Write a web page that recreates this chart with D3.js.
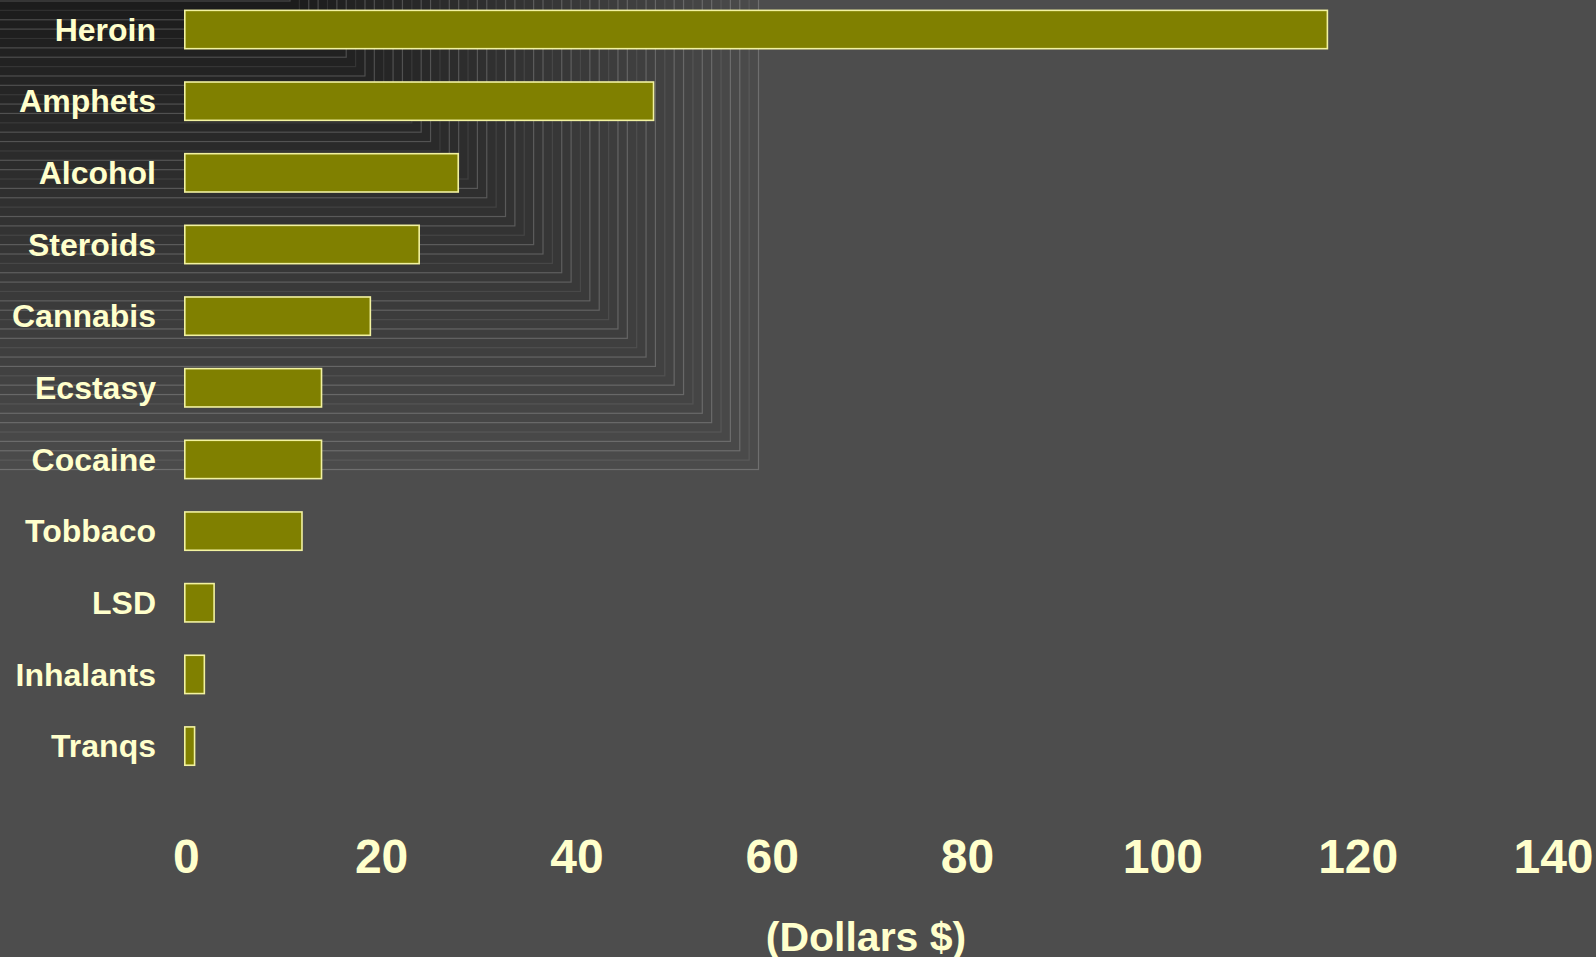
<!DOCTYPE html>
<html>
<head>
<meta charset="utf-8">
<script src="https://cdn.jsdelivr.net/npm/d3@7"></script>
<style>
  html, body { margin: 0; padding: 0; background: #4d4d4d; overflow: hidden; }
  svg { display: block; }
  text { font-family: "Liberation Sans", Arial, sans-serif; font-weight: bold; fill: #ffffcc; }
</style>
</head>
<body>
<svg id="chart" width="1596" height="957"></svg>
<script>
// Average spend per use, by substance
const categories = ["Heroin", "Amphets", "Alcohol", "Steroids", "Cannabis", "Ecstasy",
                    "Cocaine", "Tobbaco", "LSD", "Inhalants", "Tranqs"];
const values = [117, 48, 28, 24, 19, 14, 14, 12, 3, 2, 1];
const tickValues = [0, 20, 40, 60, 80, 100, 120, 140];
const axisTitle = "(Dollars $)";

const W = 1596, H = 957;
const svg = d3.select("#chart");

// Background: nested rectangles anchored at the top-left corner,
// shading from near-black in the corner out to the page grey.
svg.append("rect").attr("width", W).attr("height", H).attr("fill", "#4d4d4d");
const bg = svg.append("g");
const steps = 51, stepSize = 9.37, x0 = 290, y0 = 1;
const shade = d3.interpolateRgb("#1b1b1b", "#4b4b4b");
for (let k = steps - 1; k >= 0; k--) {
  const cx = x0 + k * stepSize, cy = y0 + k * stepSize;
  bg.append("rect")
    .attr("x", -10).attr("y", -10)
    .attr("width", cx + 10).attr("height", cy + 10)
    .attr("fill", shade(k / (steps - 1)))
    .attr("stroke", "#ffffff")
    .attr("stroke-opacity", (k % 3 === 1) ? 0.09 : 0.2)
    .attr("stroke-width", 1.2);
}

// Scales
const x = d3.scaleLinear().domain([0, 140]).range([184.8, 1552]);
const y = d3.scaleBand().domain(categories)
  .range([-6.3, 781.9])
  .paddingInner(0.465)
  .paddingOuter(0.2325);

// Bars
svg.append("g").selectAll("rect")
  .data(categories)
  .join("rect")
  .attr("x", x(0))
  .attr("y", d => y(d))
  .attr("width", (d, i) => x(values[i]) - x(0))
  .attr("height", y.bandwidth())
  .attr("fill", "#808000")
  .attr("stroke", "#f2f2a0")
  .attr("stroke-width", 1.6);

// Category labels
const yAxis = d3.axisLeft(y).tickSize(0).tickPadding(0);
const gy = svg.append("g").attr("transform", "translate(156,0)").call(yAxis);
gy.select(".domain").remove();
gy.selectAll("text")
  .attr("fill", "#ffffcc")
  .attr("font-size", 32)
  .attr("dy", "0.35em")
  .style("font-family", "'Liberation Sans', Arial, sans-serif")
  .style("font-weight", "bold");

// Value axis labels
const xAxis = d3.axisBottom(x).tickValues(tickValues).tickSize(0).tickPadding(0);
const gx = svg.append("g").attr("transform", "translate(1,837)").call(xAxis);
gx.select(".domain").remove();
gx.selectAll("text")
  .attr("fill", "#ffffcc")
  .attr("font-size", 48)
  .attr("y", 0)
  .attr("dy", "0.74em")
  .style("font-family", "'Liberation Sans', Arial, sans-serif")
  .style("font-weight", "bold");

// Axis title
svg.append("text")
  .attr("x", 866)
  .attr("y", 951)
  .attr("text-anchor", "middle")
  .attr("font-size", 41)
  .text(axisTitle);
</script>
</body>
</html>
